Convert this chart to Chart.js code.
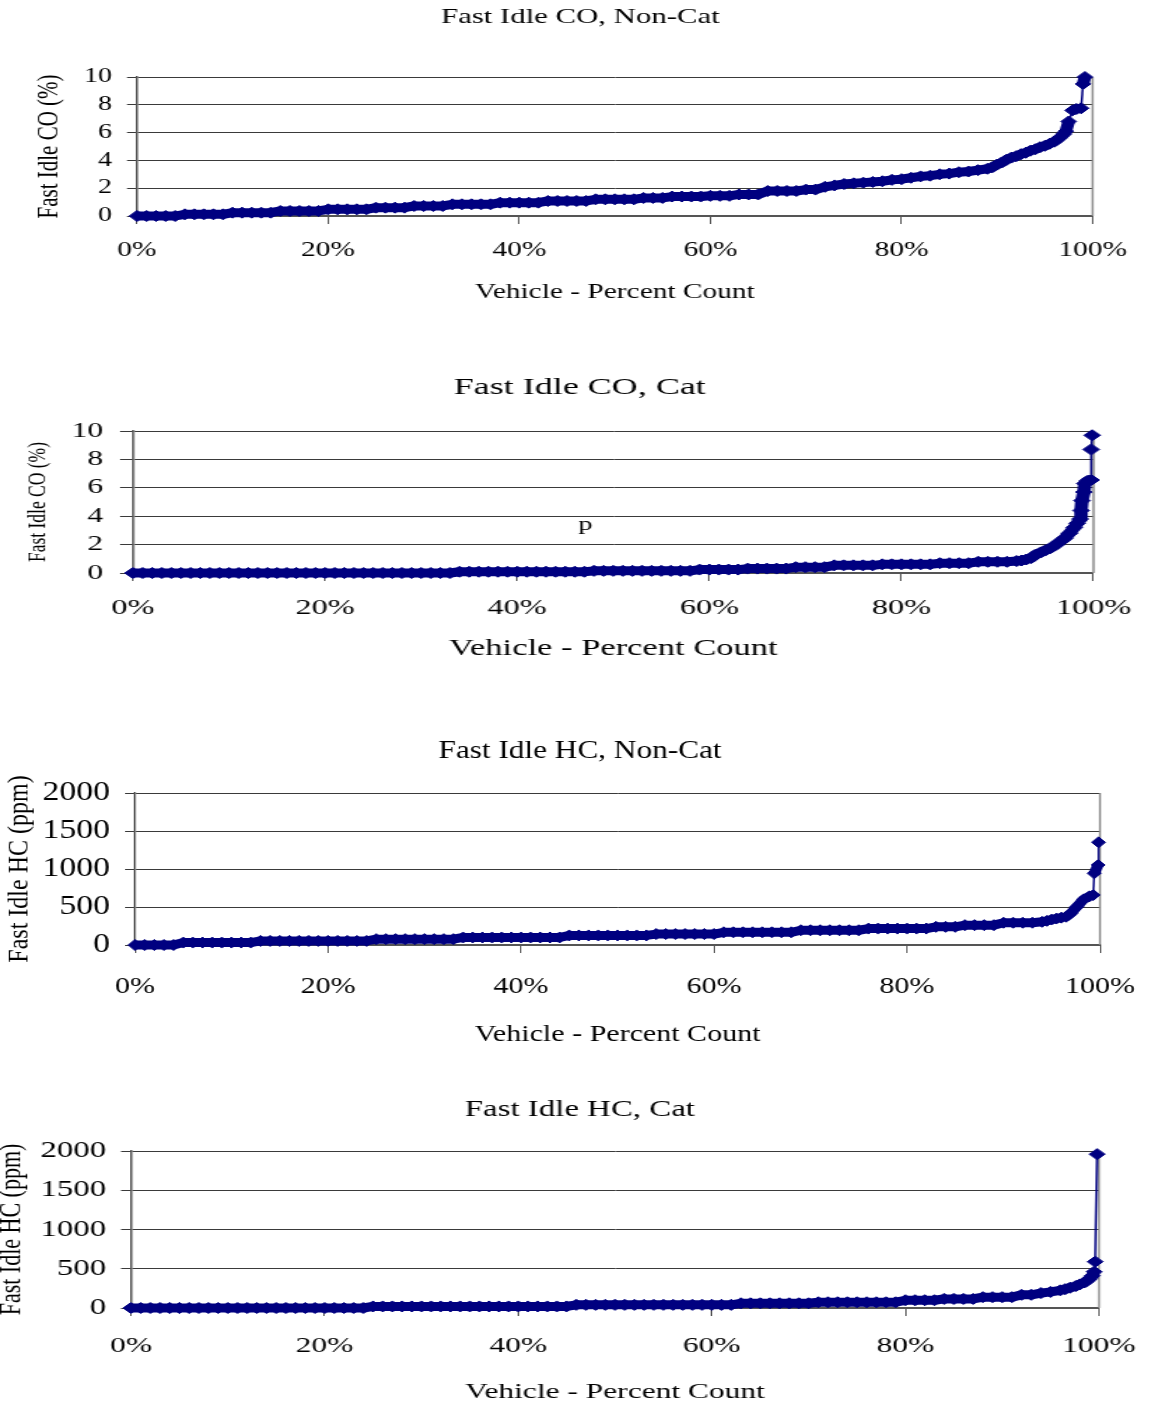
<!DOCTYPE html>
<html>
<head>
<meta charset="utf-8">
<script src="https://cdn.jsdelivr.net/npm/chart.js@4.4.1/dist/chart.umd.min.js"></script>
<style>
  html, body { margin: 0; padding: 0; background: #fff; }
  #page { position: relative; width: 1160px; height: 1407px; overflow: hidden; }
  canvas { position: absolute; left: 0; transform-origin: 0 0; }
</style>
</head>
<body>
<div id="page">
  <canvas id="coNonCat"></canvas>
  <canvas id="coCat"></canvas>
  <canvas id="hcNonCat"></canvas>
  <canvas id="hcCat"></canvas>
</div>
<script>
// vehicle percent count positions shared by the body of every curve
const pctCount = [0, 1, 2, 3, 4, 5, 6, 7, 8, 9, 10, 11, 12, 13, 14, 15, 16, 17, 18, 19,
  20, 21, 22, 23, 24, 25, 26, 27, 28, 29, 30, 31, 32, 33, 34, 35, 36, 37, 38, 39,
  40, 41, 42, 43, 44, 45, 46, 47, 48, 49, 50, 51, 52, 53, 54, 55, 56, 57, 58, 59,
  60, 61, 62, 63, 64, 65, 66, 67, 68, 69, 70, 71, 72, 73, 74, 75, 76, 77, 78, 79,
  80, 81, 82, 83, 84, 85, 86, 87, 88, 89, 90, 91, 92, 93];
const xTicks = [0, 20, 40, 60, 80, 100];

// Fast Idle CO, Non-Cat (%)
const coNonCatPct = pctCount.slice(0, 90).concat([89.5, 90, 90.5, 91, 91.5, 92, 92.5, 93, 93.5, 94,
  94.5, 95, 95.5, 96, 96.5, 97, 97.2, 97.5, 97.9, 98.3, 98.8, 99.0, 99.2]);
const coNonCat = [0, 0, 0, 0, 0, 0.12, 0.12, 0.12, 0.12, 0.12,
  0.24, 0.24, 0.24, 0.24, 0.24, 0.36, 0.36, 0.36, 0.36, 0.36,
  0.48, 0.48, 0.48, 0.48, 0.48, 0.6, 0.6, 0.6, 0.6, 0.72,
  0.72, 0.72, 0.72, 0.84, 0.84, 0.84, 0.84, 0.84, 0.96, 0.96,
  0.96, 0.96, 0.96, 1.08, 1.08, 1.08, 1.08, 1.08, 1.2, 1.2,
  1.2, 1.2, 1.2, 1.3, 1.3, 1.3, 1.4, 1.4, 1.4, 1.4,
  1.45, 1.45, 1.45, 1.55, 1.55, 1.55, 1.8, 1.8, 1.8, 1.8,
  1.9, 1.9, 2.1, 2.2, 2.3, 2.35, 2.4, 2.45, 2.5, 2.6,
  2.65, 2.75, 2.85, 2.9, 3.0, 3.05, 3.15, 3.2, 3.3, 3.4,
  3.5, 3.7, 3.85, 4.05, 4.2, 4.3, 4.45, 4.55, 4.7, 4.8,
  4.95, 5.05, 5.2, 5.35, 5.6, 5.9, 6.1, 6.8, 7.6, 7.7, 7.75, 9.5, 10.0];

// Fast Idle CO, Cat (%)
const coCatPct = pctCount.slice(0, 93).concat([92.5, 93, 93.5, 94, 94.5, 95, 95.5, 96, 96.5, 97,
  97.5, 98, 98.3, 98.6, 98.7, 98.8, 99.0, 99.1, 99.4, 99.76, 99.76, 99.86]);
const coCat = [0, 0, 0, 0, 0, 0, 0, 0, 0, 0,
  0, 0, 0, 0, 0, 0, 0, 0, 0, 0,
  0, 0, 0, 0, 0, 0, 0, 0, 0, 0,
  0, 0, 0, 0, 0.09, 0.09, 0.09, 0.09, 0.09, 0.09,
  0.09, 0.09, 0.09, 0.09, 0.09, 0.09, 0.09, 0.09, 0.15, 0.15,
  0.15, 0.15, 0.15, 0.15, 0.15, 0.15, 0.15, 0.15, 0.15, 0.24,
  0.24, 0.24, 0.24, 0.24, 0.31, 0.31, 0.31, 0.31, 0.31, 0.41,
  0.41, 0.41, 0.41, 0.54, 0.54, 0.54, 0.54, 0.54, 0.61, 0.61,
  0.61, 0.61, 0.61, 0.61, 0.69, 0.69, 0.69, 0.69, 0.79, 0.79,
  0.79, 0.79, 0.84,
  0.88, 0.95, 1.05, 1.3, 1.45, 1.6, 1.75, 1.95, 2.2, 2.45,
  2.8, 3.2, 3.5, 3.8, 4.4, 5.1, 5.7, 6.3, 6.5, 6.55, 8.7, 9.7];

// Fast Idle HC, Non-Cat (ppm)
const hcNonCatPct = pctCount.slice(0, 94).concat([94, 94.5, 95, 95.5, 96, 96.5, 97, 97.6, 98.3,
  98.9, 99.3, 99.4, 99.8, 99.85]);
const hcNonCat = [0, 0, 0, 0, 0, 32, 32, 32, 32, 32,
  32, 32, 32, 54, 54, 54, 54, 54, 54, 54,
  54, 54, 54, 54, 54, 77, 77, 77, 77, 77,
  77, 77, 77, 77, 99, 99, 99, 99, 99, 99,
  99, 99, 99, 99, 99, 126, 126, 126, 126, 126,
  126, 126, 126, 126, 144, 144, 144, 144, 144, 144,
  144, 167, 167, 167, 167, 167, 167, 167, 167, 194,
  194, 194, 194, 194, 194, 194, 216, 216, 216, 216,
  216, 216, 216, 239, 239, 239, 261, 261, 261, 261,
  293, 293, 293, 293,
  305, 318, 335, 348, 360, 372, 420, 504, 600, 640, 658, 943, 1053, 1351];

// Fast Idle HC, Cat (ppm)
const hcCatPct = pctCount.slice(0, 94).concat([94, 95, 96, 96.5, 97, 97.6, 98, 98.5, 99, 99.3,
  99.5, 99.6, 99.8]);
const hcCat = [0, 0, 0, 0, 0, 0, 0, 0, 0, 0,
  0, 0, 0, 0, 0, 0, 0, 0, 0, 0,
  0, 0, 0, 0, 0, 20, 20, 20, 20, 20,
  20, 20, 20, 20, 20, 20, 20, 20, 20, 20,
  20, 20, 20, 20, 20, 20, 40, 40, 40, 40,
  40, 40, 40, 40, 40, 40, 40, 40, 40, 40,
  40, 40, 40, 60, 60, 60, 60, 60, 60, 60,
  60, 73, 73, 73, 73, 73, 73, 73, 73, 73,
  99, 99, 99, 99, 116, 116, 116, 116, 138, 138,
  138, 138, 168, 168,
  190, 205, 225, 240, 258, 280, 300, 325, 370, 410, 462, 590, 1960];

Chart.defaults.font.family = "'Liberation Serif', 'Times New Roman', serif";
Chart.defaults.color = '#000';

const NAVY = '#000080';

const frame = {
  id: 'frame',
  beforeDatasetsDraw(chart) {
    const a = chart.chartArea;
    const ctx = chart.ctx;
    ctx.save();
    ctx.strokeStyle = '#8c8c8c';
    ctx.lineWidth = 1.5;
    ctx.beginPath();
    ctx.moveTo(a.right, a.top);
    ctx.lineTo(a.right, a.bottom);
    ctx.stroke();
    ctx.restore();
  },
  afterDatasetsDraw(chart, args, opts) {
    if (!opts.note) return;
    const ctx = chart.ctx;
    ctx.save();
    ctx.font = opts.note.size + "px 'Liberation Serif', serif";
    ctx.fillStyle = '#000';
    ctx.textAlign = 'center';
    ctx.textBaseline = 'middle';
    ctx.fillText(opts.note.text, chart.scales.x.getPixelForValue(opts.note.x),
      chart.scales.y.getPixelForValue(opts.note.y));
    ctx.restore();
  }
};

// thick band for the dense run of markers, thin line for the sparse jumps at the tail
function segWidth(ctx) {
  const dx = Math.abs(ctx.p1.x - ctx.p0.x);
  const dy = Math.abs(ctx.p1.y - ctx.p0.y);
  return (dy > 10 && dy > 2.5 * dx) ? 1.5 : 9;
}

function makeChart(id, g, title, yTitle, yMax, yStep, xs, ys, note) {
  const s = g.s;
  const w = Math.round(1160 / s);
  const canvas = document.getElementById(id);
  canvas.width = w;
  canvas.height = g.h;
  canvas.style.width = w + 'px';
  canvas.style.height = g.h + 'px';
  canvas.style.top = g.top + 'px';
  canvas.style.transform = 'scaleX(' + s + ')';

  const titlePadTop = g.titleY - 0.6 * g.ft;
  const titlePadBottom = g.plotTop - titlePadTop - 1.2 * g.ft;
  const xAxisH = g.xTitleY + 0.6 * g.fxt - g.plotBottom;
  const padBottom = g.h - (g.xTitleY + 0.6 * g.fxt);
  const xTickPad = g.xTickY - g.plotBottom - 8 - 0.6 * g.fx;
  const yTickLen = g.yTickLen / s;
  const yTickPad = (g.plotLeft - g.yTickRight) / s - yTickLen;

  return new Chart(canvas, {
    type: 'line',
    data: {
      datasets: [{
        data: xs.map((x, i) => ({ x: x, y: ys[i] })),
        borderColor: NAVY,
        backgroundColor: NAVY,
        borderWidth: 9,
        borderJoinStyle: 'round',
        segment: { borderWidth: segWidth },
        pointStyle: 'rectRot',
        pointRadius: 5.5,
        pointBorderWidth: 1,
        tension: 0,
        clip: false
      }]
    },
    options: {
      responsive: false,
      animation: false,
      events: [],
      layout: { padding: { left: 0, top: 0, right: 0, bottom: padBottom } },
      plugins: {
        legend: { display: false },
        tooltip: { enabled: false },
        title: {
          display: true,
          text: title,
          color: '#000',
          font: { size: g.ft, weight: 'normal' },
          padding: { top: titlePadTop, bottom: titlePadBottom }
        },
        frame: { note: note || null }
      },
      scales: {
        x: {
          type: 'linear',
          min: 0,
          max: 100,
          afterBuildTicks: (sc) => { sc.ticks = xTicks.map(v => ({ value: v })); },
          afterFit: (sc) => { sc.height = xAxisH; },
          ticks: {
            padding: xTickPad,
            maxRotation: 0,
            font: { size: g.fx },
            callback: (v) => v + '%'
          },
          grid: { drawOnChartArea: false, drawTicks: true, tickLength: 8, color: '#555', lineWidth: 1 },
          border: { display: true, color: '#555', width: 2 },
          title: {
            display: true,
            text: 'Vehicle - Percent Count',
            color: '#000',
            font: { size: g.fxt },
            padding: { top: 0, bottom: 0 }
          }
        },
        y: {
          type: 'linear',
          min: 0,
          max: yMax,
          afterFit: (sc) => { sc.width = g.plotLeft / s; },
          ticks: {
            stepSize: yStep,
            padding: yTickPad,
            font: { size: g.fy },
            callback: (v) => String(v)
          },
          grid: { color: '#3a3a3a', lineWidth: 1, drawTicks: true, tickLength: yTickLen },
          border: { display: true, color: '#555', width: 1.5 },
          title: {
            display: true,
            text: yTitle,
            color: '#000',
            font: { size: g.fyt },
            padding: { top: g.yTitleX / s - 0.6 * g.fyt, bottom: 0 }
          }
        },
        yR: {
          type: 'linear',
          position: 'right',
          display: true,
          afterFit: (sc) => { sc.width = (1160 - g.plotRight) / s; },
          ticks: { display: false },
          grid: { display: false, drawTicks: false },
          border: { display: false }
        }
      }
    },
    plugins: [frame]
  });
}

makeChart('coNonCat',
  { s: 1.4, top: 0, h: 320, titleY: 17, ft: 22, plotTop: 77, plotBottom: 216, plotLeft: 137, plotRight: 1092,
    xTickY: 250, fx: 21, xTitleY: 292, fxt: 21, yTitleX: 50, fyt: 21, yTickRight: 112, fy: 20, yTickLen: 10 },
  'Fast Idle CO, Non-Cat', 'Fast Idle CO (%)', 10, 2, coNonCatPct, coNonCat);

makeChart('coCat',
  { s: 1.5, top: 360, h: 320, titleY: 28, ft: 24, plotTop: 71, plotBottom: 213, plotLeft: 133, plotRight: 1094,
    xTickY: 248, fx: 21.5, xTitleY: 289, fxt: 23, yTitleX: 38, fyt: 17.5, yTickRight: 103, fy: 21, yTickLen: 13 },
  'Fast Idle CO, Cat', 'Fast Idle CO (%)', 10, 2, coCatPct, coCat,
  { text: 'p', x: 47.1, y: 3.4, size: 19 });

makeChart('hcNonCat',
  { s: 1.25, top: 720, h: 345, titleY: 31, ft: 25, plotTop: 73, plotBottom: 225, plotLeft: 135, plotRight: 1100,
    xTickY: 267, fx: 24, xTitleY: 315, fxt: 24, yTitleX: 20, fyt: 24, yTickRight: 110, fy: 27, yTickLen: 10 },
  'Fast Idle HC, Non-Cat', 'Fast Idle HC (ppm)', 2000, 500, hcNonCatPct, hcNonCat);

makeChart('hcCat',
  { s: 1.43, top: 1080, h: 327, titleY: 30, ft: 23, plotTop: 71, plotBottom: 228, plotLeft: 131, plotRight: 1106,
    xTickY: 266, fx: 22, xTitleY: 312, fxt: 22, yTitleX: 12, fyt: 22, yTickRight: 106, fy: 23, yTickLen: 10 },
  'Fast Idle HC, Cat', 'Fast Idle HC (ppm)', 2000, 500, hcCatPct, hcCat);
</script>
</body>
</html>
